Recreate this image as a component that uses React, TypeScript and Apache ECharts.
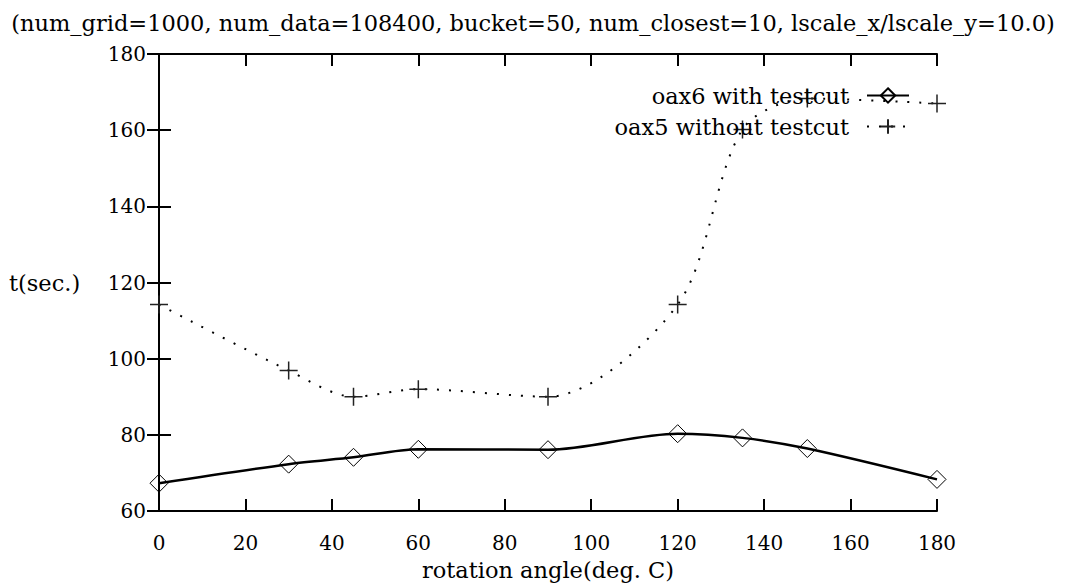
import React, { useEffect, useRef } from "react";
import * as echarts from "echarts";

const angles = [0, 30, 45, 60, 90, 120, 135, 150, 180];
const oax6With = [67.3, 72.3, 74.1, 76.2, 76.1, 80.3, 79.2, 76.4, 68.3];
const oax5Without = [114.2, 96.9, 90.0, 92.0, 90.0, 114.2, 160.2, 168.3, 167.0];
const titleText =
  "(num_grid=1000, num_data=108400, bucket=50, num_closest=10, lscale_x/lscale_y=10.0)";
const xName = "rotation angle(deg. C)";
const yName = "t(sec.)";
const seriesNames = ["oax6 with testcut", "oax5 without testcut"];

const FONT = "'DejaVu Serif', 'Liberation Serif', serif";

export default function App() {
  const ref = useRef<HTMLDivElement>(null);
  useEffect(() => {
    if (!ref.current) return;
    const chart = echarts.init(ref.current, undefined, { renderer: "svg" });
    const axisCommon = {
      type: "value" as const,
      splitLine: { show: false },
      axisLine: { show: true, lineStyle: { color: "#000", width: 2 } },
      axisTick: { show: true, inside: true, length: 12, lineStyle: { color: "#000", width: 2 } },
    };
    chart.setOption({
      animation: false,
      backgroundColor: "#fff",
      title: {
        text: titleText,
        left: "center",
        top: 6,
        textStyle: { fontFamily: FONT, fontSize: 22.5, fontWeight: "normal", color: "#000" },
      },
      legend: {
        orient: "vertical",
        align: "right",
        right: 151,
        top: 79,
        itemWidth: 42,
        itemHeight: 18,
        itemGap: 8,
        data: seriesNames,
        textStyle: {
          fontFamily: FONT,
          fontSize: 22.5,
          lineHeight: 22,
          color: "#000",
          padding: [0, 13, 0, 0],
        },
      },
      graphic: [
        {
          type: "text",
          x: 9,
          y: 283,
          style: {
            text: yName,
            font: `22.5px ${FONT}`,
            fill: "#000",
            align: "left",
            verticalAlign: "middle",
          },
        },
      ],
      grid: { left: 159, right: 129, top: 54, bottom: 73 },
      xAxis: [
        {
          ...axisCommon,
          position: "bottom",
          min: 0,
          max: 180,
          interval: 20,
          name: xName,
          nameLocation: "middle",
          nameGap: 47,
          nameTextStyle: { fontFamily: FONT, fontSize: 22.5, color: "#000" },
          axisLabel: { fontFamily: FONT, fontSize: 20, color: "#000", margin: 22 },
        },
        {
          ...axisCommon,
          position: "top",
          min: 0,
          max: 180,
          interval: 20,
          axisLabel: { show: false },
        },
      ],
      yAxis: [
        {
          ...axisCommon,
          position: "left",
          min: 60,
          max: 180,
          interval: 20,
          axisLabel: { fontFamily: FONT, fontSize: 20, color: "#000", margin: 13 },
        },
        {
          ...axisCommon,
          position: "right",
          min: 60,
          max: 180,
          interval: 20,
          axisLabel: { show: false },
        },
      ],
      series: [
        {
          name: seriesNames[0],
          type: "line",
          data: angles.map((a, i) => [a, oax6With[i]]),
          smooth: 0.3,
          symbol: "diamond",
          symbolSize: 18,
          showAllSymbol: true,
          lineStyle: { color: "#000", width: 2.5 },
          itemStyle: { color: "rgba(0,0,0,0)", borderColor: "#000", borderWidth: 1 },
          emphasis: { disabled: true },
        },
        {
          name: seriesNames[1],
          type: "line",
          data: angles.map((a, i) => [a, oax5Without[i]]),
          smooth: 0.3,
          symbol: "path://M0,-1L0,1M-1,0L1,0",
          symbolSize: 18,
          showAllSymbol: true,
          lineStyle: { color: "#000", width: 2, type: [2, 10] },
          itemStyle: { color: "rgba(0,0,0,0)", borderColor: "#222", borderWidth: 1.5 },
          emphasis: { disabled: true },
        },
      ],
    });
    return () => chart.dispose();
  }, []);
  return (
    <div
      ref={ref}
      style={{ position: "fixed", left: 0, top: 0, width: 1066, height: 586 }}
    />
  );
}
